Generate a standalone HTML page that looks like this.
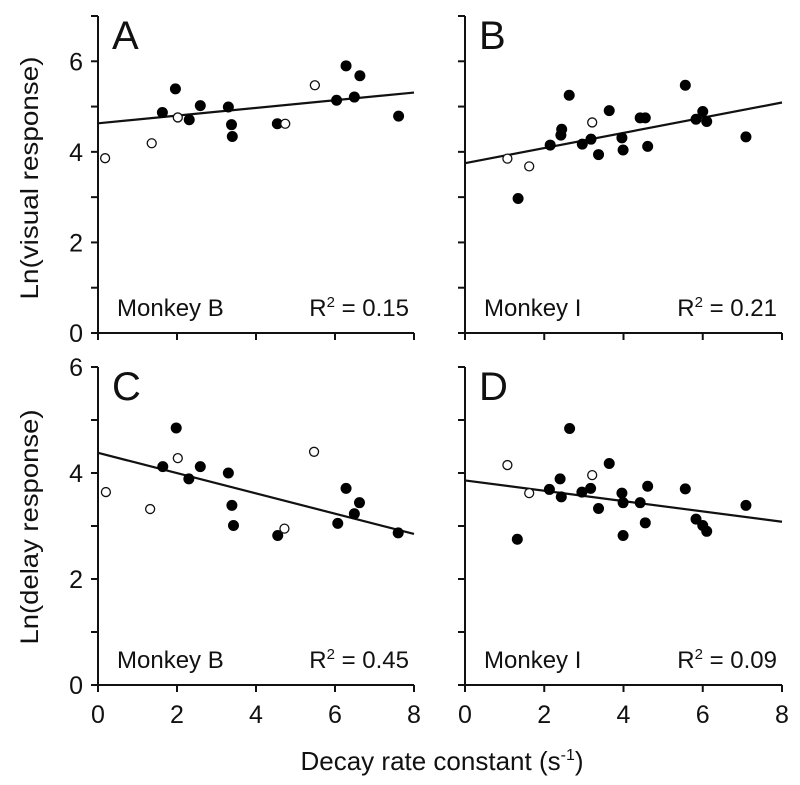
<!DOCTYPE html>
<html><head><meta charset="utf-8"><style>
html,body{margin:0;padding:0;background:#fff;}
svg{display:block;font-family:"Liberation Sans",Arial,sans-serif;}
</style></head><body>
<svg id="chart" width="800" height="785" viewBox="0 0 800 785" xmlns="http://www.w3.org/2000/svg">
<text x="0" y="0" transform="translate(38,178) rotate(-90)" text-anchor="middle" font-size="25" textLength="243" lengthAdjust="spacingAndGlyphs" fill="#111">Ln(visual response)</text>
<text x="0" y="0" transform="translate(38,527) rotate(-90)" text-anchor="middle" font-size="25" textLength="235" lengthAdjust="spacingAndGlyphs" fill="#111">Ln(delay response)</text>
<text x="442" y="770" text-anchor="middle" font-size="26" fill="#111">Decay rate constant (s<tspan font-size="16" dy="-10">-1</tspan><tspan dy="10">)</tspan></text>
</svg>
<script>
const aFilledX=[1.63,1.96,2.31,2.59,3.30,3.38,3.40,4.54,6.04,6.28,6.49,6.63,7.61];
const aFilledY=[4.87,5.39,4.71,5.02,4.99,4.60,4.34,4.62,5.14,5.90,5.21,5.68,4.79];
const aOpenX=[0.18,1.36,2.02,4.74,5.49];
const aOpenY=[3.86,4.19,4.76,4.62,5.47];
const aLine=[4.63,5.31];
const bFilledX=[2.63,1.34,2.15,2.44,2.42,2.96,3.18,3.37,3.64,3.96,3.99,4.42,4.55,4.61,5.56,5.83,6.00,6.10,7.09];
const bFilledY=[5.25,2.97,4.15,4.50,4.37,4.17,4.28,3.94,4.91,4.31,4.04,4.75,4.75,4.12,5.47,4.72,4.89,4.67,4.33];
const bOpenX=[1.07,1.62,3.21];
const bOpenY=[3.85,3.68,4.65];
const bLine=[3.75,5.09];
const cFilledX=[1.64,1.98,2.30,2.59,3.30,3.39,3.43,4.55,6.07,6.28,6.49,6.62,7.60];
const cFilledY=[4.12,4.85,3.89,4.12,4.00,3.39,3.01,2.82,3.05,3.71,3.23,3.44,2.87];
const cOpenX=[0.20,1.32,2.02,4.72,5.47];
const cOpenY=[3.64,3.32,4.28,2.95,4.40];
const cLine=[4.38,2.85];
const dFilledX=[2.64,1.32,2.13,2.40,2.43,2.95,3.17,3.37,3.64,3.96,3.99,3.99,4.42,4.55,4.61,5.56,5.83,6.00,6.10,7.09];
const dFilledY=[4.84,2.75,3.69,3.89,3.55,3.64,3.71,3.33,4.18,3.62,3.44,2.82,3.44,3.06,3.75,3.70,3.13,3.01,2.90,3.39];
const dOpenX=[1.07,1.62,3.21];
const dOpenY=[4.15,3.62,3.96];
const dLine=[3.86,3.08];
const xTickLabels=["0","2","4","6","8"];

const svg=document.getElementById('chart');
const NS='http://www.w3.org/2000/svg';
function mk(tag,attrs,parent){const e=document.createElementNS(NS,tag);for(const k in attrs)e.setAttribute(k,attrs[k]);(parent||svg).appendChild(e);return e;}

function panel(p){
  const g=mk('g',{});
  
  
  const sx=v=>p.x0+v*(p.x1-p.x0)/8;
  const sy=v=>p.y0-v*(p.y0-p.yTop)/p.ymax;
  const ax=mk('path',{d:`M${p.x0},${p.yTop} L${p.x0},${p.y0} L${p.x1},${p.y0}`,fill:'none',stroke:'#111','stroke-width':2},g);
  
  
  for(let i=0;i<=p.ymax;i++){
    const t=mk('line',{x1:p.x0-7,x2:p.x0,y1:sy(i),y2:sy(i),stroke:'#111','stroke-width':2},g);
    
    
    if(p.yLabels&&i%2===0&&i<=6){
      const tl=mk('text',{x:p.x0-15,y:sy(i)+9,'text-anchor':'end','font-size':25,fill:'#111'},g);
      tl.textContent=String(i);
      
      
    }
  }
  for(let i=0;i<=4;i++){
    const v=i*2;
    const t=mk('line',{x1:sx(v),x2:sx(v),y1:p.y0,y2:p.y0+7,stroke:'#111','stroke-width':2},g);
    
    
    if(p.xLabels){
      const tl=mk('text',{x:sx(v),y:p.y0+38,'text-anchor':'middle','font-size':25,fill:'#111'},g);
      tl.textContent=xTickLabels[i];
      
      
    }
  }
  const L=mk('text',{x:p.x0+14,y:p.yTop+33,'font-size':40,fill:'#111'},g);
  L.textContent=p.letter;
  
  
  const m=mk('text',{x:p.x0+19,y:p.y0-17,'font-size':24,fill:'#111'},g);
  m.textContent=p.monkey;
  
  
  const r=mk('text',{x:p.x1-5,y:p.y0-17,'text-anchor':'end','font-size':24,fill:'#111'},g);
  r.innerHTML='R<tspan font-size="15" dy="-9">2</tspan><tspan dy="9"> = '+p.r2+'</tspan>';
  
  
  const ln=mk('line',{x1:sx(0),y1:sy(p.line[0]),x2:sx(8),y2:sy(p.line[1]),stroke:'#111','stroke-width':2.2},g);
  
  
  p.fx.forEach((v,i)=>{
    const c=mk('circle',{cx:sx(v),cy:sy(p.fy[i]),r:5.5,fill:'#000'},g);
    
    
  });
  p.ox.forEach((v,i)=>{
    const c=mk('circle',{cx:sx(v),cy:sy(p.oy[i]),r:4.5,fill:'#fff',stroke:'#111','stroke-width':1.3},g);
    
    
  });
}
panel({letter:'A',monkey:'Monkey B',r2:'0.15',x0:98,x1:414,y0:333,yTop:16,ymax:7,yLabels:true,xLabels:false,fx:aFilledX,fy:aFilledY,ox:aOpenX,oy:aOpenY,line:aLine});
panel({letter:'B',monkey:'Monkey I',r2:'0.21',x0:465,x1:782,y0:333,yTop:16,ymax:7,yLabels:false,xLabels:false,fx:bFilledX,fy:bFilledY,ox:bOpenX,oy:bOpenY,line:bLine});
panel({letter:'C',monkey:'Monkey B',r2:'0.45',x0:98,x1:414,y0:685,yTop:367,ymax:6,yLabels:true,xLabels:true,fx:cFilledX,fy:cFilledY,ox:cOpenX,oy:cOpenY,line:cLine});
panel({letter:'D',monkey:'Monkey I',r2:'0.09',x0:465,x1:782,y0:685,yTop:367,ymax:6,yLabels:false,xLabels:true,fx:dFilledX,fy:dFilledY,ox:dOpenX,oy:dOpenY,line:dLine});
</script>
</body></html>
